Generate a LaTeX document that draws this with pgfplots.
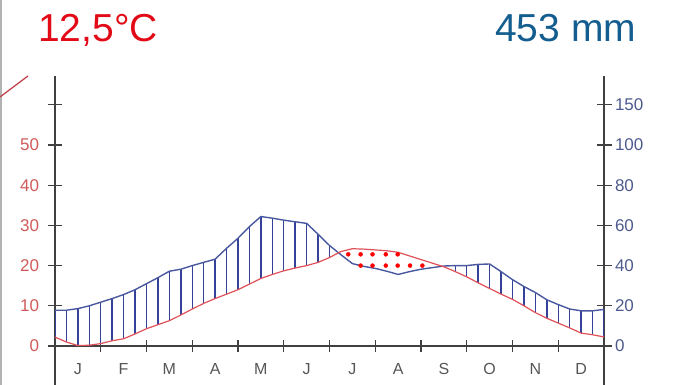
\documentclass[border=0pt]{standalone}
\usepackage{fontspec}
\setmainfont{Liberation Sans}
\usepackage{pgfplots}
\pgfplotsset{compat=1.18}
\usepackage{pgfplotstable}

\definecolor{tred}{HTML}{E30A17}
\definecolor{tblue}{HTML}{135E8F}
\definecolor{curvered}{HTML}{E05058}
\definecolor{curveblue}{HTML}{4A58A0}
\definecolor{hatch}{HTML}{34429A}
\definecolor{lblred}{HTML}{D05A5A}
\definecolor{lblblue}{HTML}{4E5A8E}
\definecolor{axgray}{HTML}{404040}
\definecolor{mongray}{HTML}{555555}

% m = month position (0..12), P = precipitation in temperature units (mm/2), T = temperature
\pgfplotstableread{
m P T
0 8.9 2.2
0.25 8.9 1.0
0.5 9.3 0.1
0.75 10.0 0.2
1 10.9 0.6
1.25 11.8 1.3
1.5 12.8 1.8
1.75 14.0 3.0
2 15.5 4.3
2.25 17.0 5.3
2.5 18.6 6.3
2.75 19.1 7.7
3 20.0 9.2
3.25 20.8 10.6
3.5 21.6 11.8
3.75 24.3 12.9
4 26.8 14.0
4.25 29.7 15.4
4.5 32.2 16.8
4.75 31.8 17.8
5 31.3 18.7
5.25 30.9 19.4
5.5 30.5 20.0
5.75 27.8 20.8
6 25.0 22.0
6.25 22.7 23.5
6.5 20.5 24.2
6.75 19.8 24.1
7 19.3 23.9
7.25 18.6 23.7
7.5 17.8 23.3
7.75 18.5 22.4
8 19.1 21.5
8.25 19.5 20.6
8.5 19.9 19.7
8.75 20.0 18.5
9 20.0 17.2
9.25 20.3 15.7
9.5 20.4 14.3
9.75 18.5 12.9
10 16.5 11.6
10.25 14.8 10.0
10.5 13.3 8.3
10.75 11.5 6.9
11 10.3 5.7
11.25 9.2 4.5
11.5 8.75 3.2
11.75 8.75 2.8
12 9.1 2.25
}\climate

\begin{document}
\begin{tikzpicture}[x=1bp,y=1bp]
\useasboundingbox (0bp,0bp) rectangle (678bp,385bp);
\draw[gray!60, line width=1.5bp] (0.75bp,0bp) -- (0.75bp,385bp);
\draw[curvered!85!black, line width=1.3bp] (0bp,288bp) -- (28bp,309bp);
\node[anchor=base west, inner sep=0, text=tred, font=\fontsize{39bp}{40bp}\selectfont] at (38bp,343bp) {12,5°C};
\node[anchor=base west, inner sep=0, text=tblue, font=\fontsize{39bp}{40bp}\selectfont] at (495bp,343bp) {453 mm};

\pgfplotsset{climax/.style={at={(55bp,0bp)}, anchor=south west, scale only axis,
  width=549bp, height=309bp, xmin=0, xmax=12, ymin=-9.7, ymax=67.16,
  axis line style={axgray, line width=1.5bp},
  tick style={axgray, line width=1.3bp},
  tick align=center,
  hide obscured x ticks=false, hide obscured y ticks=false,
  /pgf/number format/assume math mode=true}}

% month boundary ticks
\begin{axis}[climax,
  axis x line*=middle, axis y line=none,
  xtick={1,2,3,4,5,6,7,8,9,10,11}, xticklabels={},
  major tick length=12bp,
]
\end{axis}

% left (temperature) axis
\begin{axis}[climax,
  axis x line=none, axis y line*=left,
  ytick={0,10,20,30,40,50,60},
  yticklabels={0,10,20,30,40,50,{}},
  major tick length=15bp,
  yticklabel style={text=lblred, font=\fontsize{17bp}{18bp}\selectfont, xshift=-5bp},
]
\end{axis}

% right (precipitation) axis
\begin{axis}[climax,
  axis x line=none, axis y line*=right,
  ytick={0,10,20,30,40,50,60},
  yticklabels={0,20,40,60,80,100,150},
  major tick length=15bp,
  yticklabel style={text=lblblue, font=\fontsize{17bp}{18bp}\selectfont},
]
\end{axis}

% data + month labels
\begin{axis}[climax,
  axis x line*=middle, axis y line=none,
  xtick={0.5,1.5,2.5,3.5,4.5,5.5,6.5,7.5,8.5,9.5,10.5,11.5},
  xticklabels={J,F,M,A,M,J,J,A,S,O,N,D},
  major tick length=0pt,
  xticklabel style={text=mongray, font=\fontsize{16bp}{17bp}\selectfont, anchor=center, yshift=-23bp},
]
\addplot[hatch, line width=1.4bp, quiver={u=0, v={max(\thisrow{P}-\thisrow{T},0)}}] table[x=m, y=T]{\climate};
\addplot[curveblue, line width=1.4bp] table[x=m, y=P]{\climate};
\addplot[curvered, line width=1.2bp] table[x=m, y=T]{\climate};
\addplot[only marks, mark=*, mark size=2bp, color=red, mark options={fill=red, draw=red}] coordinates {
(6.41,22.8) (6.68,22.8) (6.94,22.8) (7.23,22.8) (7.49,22.8)
(6.68,20.0) (6.94,20.0) (7.23,20.0) (7.49,20.0) (7.76,20.0) (8.03,20.0)
};
\end{axis}
\end{tikzpicture}
\end{document}
